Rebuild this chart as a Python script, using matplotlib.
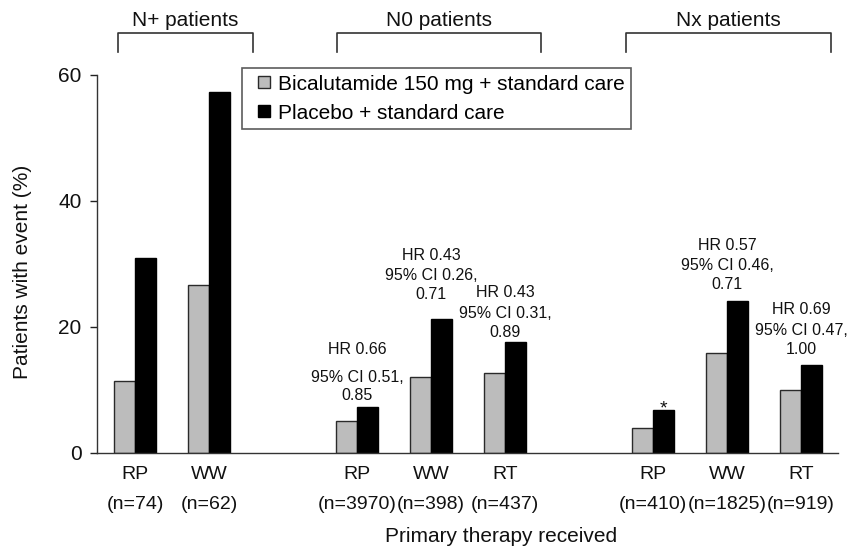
import matplotlib
matplotlib.use("Agg")
import matplotlib.pyplot as plt
from matplotlib.lines import Line2D

plt.rcParams['font.family'] = ['Liberation Sans', 'DejaVu Sans']

# ---- data ----
slots = [0, 1, 3, 4, 5, 7, 8, 9]
therapy = ['RP', 'WW', 'RP', 'WW', 'RT', 'RP', 'WW', 'RT']
n_labels = ['(n=74)', '(n=62)', '(n=3970)', '(n=398)', '(n=437)',
            '(n=410)', '(n=1825)', '(n=919)']
bicalutamide = [11.4, 26.7, 5.1, 12.0, 12.7, 4.0, 15.8, 10.0]
placebo = [31.0, 57.3, 7.3, 21.3, 17.6, 6.9, 24.2, 14.0]
series_names = ['Bicalutamide 150 mg + standard care', 'Placebo + standard care']
yticks = [0, 20, 40, 60]
groups = ['N+ patients', 'N0 patients', 'Nx patients']

# annotations: (slot, [lines], [y of each line in data units])
annotations = [
    (3, ['HR 0.66', '95% CI 0.51,', '0.85'], [16.35, 12.06, 9.2]),
    (4, ['HR 0.43', '95% CI 0.26,', '0.71'], [31.4, 28.25, 25.08]),
    (5, ['HR 0.43', '95% CI 0.31,', '0.89'], [25.4, 22.2, 19.2]),
    (8, ['HR 0.57', '95% CI 0.46,', '0.71'], [33.0, 29.7, 26.7]),
    (9, ['HR 0.69', '95% CI 0.47,', '1.00'], [22.7, 19.5, 16.5]),
]
star_slot = 7

# ---- layout ----
bracket_x = [(-0.23, 1.59), (2.73, 5.49), (6.64, 9.40)]
bracket_y_top, bracket_y_bot, group_label_y = 66.7, 63.65, 68.7

grey = '#bcbcbc'
edge = '#2a2a2a'
w = 0.29

fig = plt.figure(figsize=(8.48, 5.5), dpi=100)
ax = fig.add_axes([97/848, 1-453/550, (838-97)/848, (453-75)/550])

xg = [s - w/2 for s in slots]
xb = [s + w/2 for s in slots]
ax.bar(xg, bicalutamide, width=w, color=grey, edgecolor=edge, linewidth=1.0, zorder=2)
ax.bar(xb, placebo, width=w, color='black', edgecolor='black', linewidth=1.0, zorder=2)

ax.set_xlim(-0.514, 9.5)
ax.set_ylim(0, 60)
ax.set_yticks(yticks)
ax.tick_params(axis='y', labelsize=15, length=5, width=1, pad=6, colors='#222222')
ax.set_xticks(slots)
ax.set_xticklabels([f"{t}\n{n}" for t, n in zip(therapy, n_labels)],
                   fontsize=14, linespacing=1.95)
ax.tick_params(axis='x', length=0, pad=9.5, colors='#222222')
for lab in ax.get_xticklabels():
    lab.set_color('#111111')
for lab in ax.get_yticklabels():
    lab.set_color('#111111')
ax.spines['top'].set_visible(False)
ax.spines['right'].set_visible(False)
ax.spines['left'].set_color('#333333')
ax.spines['bottom'].set_color('#333333')
ax.spines['left'].set_linewidth(1.0)
ax.spines['bottom'].set_linewidth(1.0)

# annotations
for s, lines, ys in annotations:
    for line, y in zip(lines, ys):
        ax.text(s, y, line, ha='center', va='center', fontsize=11.5, color='#111111')
ax.text(star_slot + w/2, 6.3, '*', ha='center', va='baseline', fontsize=14, color='#111111')

# group brackets
for (x0, x1), name in zip(bracket_x, groups):
    ax.plot([x0, x0, x1, x1], [bracket_y_bot, bracket_y_top, bracket_y_top, bracket_y_bot],
            color='#333333', linewidth=1.2, clip_on=False)
    ax.text((x0 + x1)/2, group_label_y, name, ha='center', va='center', fontsize=15,
            color='#111111', clip_on=False)

# legend
handles = [Line2D([], [], linestyle='none', marker='s', markersize=8.6,
                  markerfacecolor=grey, markeredgecolor=edge, markeredgewidth=1.0),
           Line2D([], [], linestyle='none', marker='s', markersize=8.6,
                  markerfacecolor='black', markeredgecolor='black', markeredgewidth=1.0)]
leg = ax.legend(handles, series_names, loc='upper left', bbox_to_anchor=(0.1953, 1.0177),
                borderaxespad=0, fontsize=15, frameon=True, fancybox=False,
                handlelength=1.57, handletextpad=-0.15,
                labelspacing=0.49, borderpad=0.3)
leg.get_frame().set_edgecolor('#333333')
leg.get_frame().set_linewidth(1.2)

fig.text(501/848, 1-537/550, 'Primary therapy received', ha='center', va='center',
         fontsize=15, color='#111111')
fig.text(23/848, 1-271.5/550, 'Patients with event (%)', ha='center', va='center',
         rotation=90, fontsize=15, color='#111111')

fig.savefig('out.png', dpi=100)
